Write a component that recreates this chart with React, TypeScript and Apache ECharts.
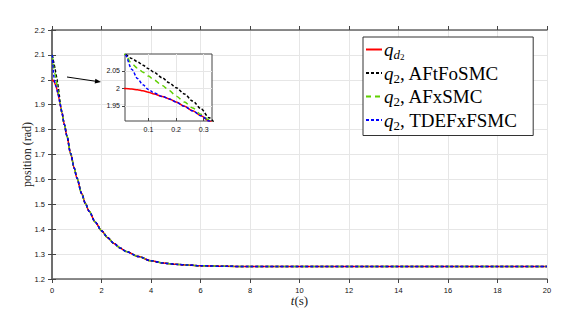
import React, { useEffect, useRef } from 'react';
import * as echarts from 'echarts';

// time samples (s)
const tEarly = [0, 0.015, 0.04, 0.06, 0.08, 0.1, 0.12, 0.15, 0.175, 0.2, 0.23, 0.26, 0.29, 0.32, 0.35, 0.4];
const tTail = [0.5, 0.6, 0.75, 0.9, 1.0, 1.2, 1.35, 1.5, 1.75, 2.0, 2.25, 2.5, 2.75, 3.0, 3.5, 4.0, 4.5, 5, 5.5, 6, 7, 8, 10, 12, 14, 16, 18, 20];

// early transients (rad)
const qdEarly = [2.0, 2.0, 1.998, 1.996, 1.993, 1.989, 1.984, 1.977, 1.97, 1.961, 1.949, 1.936, 1.922, 1.907, 1.892, 1.868];
const aftfoEarly = [2.1, 2.097, 2.085, 2.076, 2.066, 2.056, 2.046, 2.03, 2.016, 2.002, 1.984, 1.964, 1.942, 1.916, 1.894, 1.868];
const afxEarly = [2.1, 2.097, 2.07, 2.058, 2.046, 2.035, 2.024, 2.008, 1.994, 1.978, 1.961, 1.944, 1.926, 1.91, 1.893, 1.868];
const tdefxEarly = [2.1, 2.097, 2.054, 2.028, 2.01, 1.997, 1.987, 1.977, 1.97, 1.961, 1.949, 1.936, 1.922, 1.907, 1.892, 1.868];

// common tail (all trajectories coincide)
const qTail = [1.82, 1.775, 1.705, 1.645, 1.607, 1.543, 1.503, 1.472, 1.428, 1.394, 1.366, 1.343, 1.325, 1.31, 1.29, 1.273, 1.264, 1.259, 1.256, 1.253, 1.251, 1.25, 1.25, 1.25, 1.25, 1.25, 1.25, 1.25];

const seriesNames = ['qd2', 'AFtFoSMC', 'AFxSMC', 'TDEFxFSMC'];
const seriesColors = ['#ff0000', '#000000', '#5fd000', '#0000ff'];
const legendText: Record<string, string> = {
  qd2: '{iq|q}{sd|d}{ss|2}',
  AFtFoSMC: '{iq|q}{s2|2}{r|, AFtFoSMC}',
  AFxSMC: '{iq|q}{s2|2}{r|, AFxSMC}',
  TDEFxFSMC: '{iq|q}{s2|2}{r|, TDEFxFSMC}',
};

const insetXTicks = [0.1, 0.2, 0.3];
const insetYTicks = [1.95, 2, 2.05];

const build = (early: number[]) => [
  ...tEarly.map((t, i) => [t, early[i]]),
  ...tTail.map((t, i) => [t, qTail[i]]),
];

const lineTypes: any[] = ['solid', [3, 2], [5, 4], [3, 2]];

export default function App() {
  const ref = useRef<HTMLDivElement>(null);
  useEffect(() => {
    if (!ref.current) return;
    const chart = echarts.init(ref.current, undefined, { renderer: 'svg' });
    const earlies = [qdEarly, aftfoEarly, afxEarly, tdefxEarly];
    const tickFont = { fontFamily: 'Liberation Sans', fontSize: 7.5, color: '#111' };
    const axisLine = { show: true, lineStyle: { color: '#666', width: 1.5 } };
    const mk = (xi: number, yi: number, zBase: number) =>
      seriesNames.map((n, i) => ({
        name: n,
        type: 'line',
        xAxisIndex: xi,
        yAxisIndex: yi,
        data: build(earlies[i]),
        showSymbol: false,
        symbol: 'none',
        smooth: 0.3,
        smoothMonotone: 'x',
        clip: true,
        z: zBase + i,
        lineStyle: { color: seriesColors[i], width: 1.5, type: lineTypes[i] },
        itemStyle: { color: seriesColors[i] },
      }));
    const serif = 'Liberation Serif';
    chart.setOption({
      animation: false,
      backgroundColor: '#fff',
      grid: [
        { left: 52, top: 30, right: 35, bottom: 42, show: false },
        { left: 125, top: 54, width: 87, height: 67, show: true, backgroundColor: '#fff', borderColor: '#444', borderWidth: 1, z: 8 },
      ],
      xAxis: [
        {
          gridIndex: 0, type: 'value', min: 0, max: 20, interval: 2, position: 'bottom',
          axisLine, axisTick: { show: true, inside: false, length: 4, lineStyle: { color: '#444' } },
          axisLabel: { ...tickFont, margin: 7 },
          splitLine: { show: true, lineStyle: { color: '#e6e6e6', width: 1 } },
          name: '{it|t}{rm|(s)}', nameLocation: 'middle', nameGap: 15, nameMoveOverlap: false,
          nameTextStyle: { rich: { it: { fontFamily: serif, fontStyle: 'italic', fontSize: 13, color: '#222' }, rm: { fontFamily: serif, fontSize: 13, color: '#222' } } },
        },
        {
          gridIndex: 0, type: 'value', min: 0, max: 20, interval: 2, position: 'top',
          axisLine, axisTick: { show: true, inside: false, length: 4, lineStyle: { color: '#444' } },
          axisLabel: { show: false }, splitLine: { show: false },
        },
        {
          gridIndex: 1, type: 'value', min: 0.015, max: 0.33, position: 'bottom', z: 9,
          axisLine: { show: false },
          axisTick: { show: true, inside: true, length: 3, customValues: insetXTicks, lineStyle: { color: '#444' } },
          axisLabel: { ...tickFont, fontSize: 7, margin: 5, customValues: insetXTicks },
          splitLine: { show: true, lineStyle: { color: '#e6e6e6' } },
        },
      ],
      yAxis: [
        {
          gridIndex: 0, type: 'value', min: 1.2, max: 2.2, interval: 0.1, position: 'left',
          axisLine, axisTick: { show: true, inside: false, length: 4, lineStyle: { color: '#444' } },
          axisLabel: { ...tickFont, margin: 7 },
          splitLine: { show: true, lineStyle: { color: '#e6e6e6', width: 1 } },
          name: 'position (rad)', nameLocation: 'middle', nameGap: 19, nameMoveOverlap: false,
          nameTextStyle: { fontFamily: serif, fontSize: 12, color: '#222' },
        },
        {
          gridIndex: 0, type: 'value', min: 1.2, max: 2.2, interval: 0.1, position: 'right',
          axisLine, axisTick: { show: true, inside: false, length: 4, lineStyle: { color: '#444' } },
          axisLabel: { show: false }, splitLine: { show: false },
        },
        {
          gridIndex: 1, type: 'value', min: 1.907, max: 2.098, position: 'left', z: 9,
          axisLine: { show: false },
          axisTick: { show: true, inside: false, length: 3, customValues: insetYTicks, lineStyle: { color: '#444' } },
          axisLabel: { ...tickFont, fontSize: 7, margin: 5, customValues: insetYTicks },
          splitLine: { show: true, lineStyle: { color: '#e6e6e6' } },
        },
      ],
      legend: {
        data: seriesNames,
        orient: 'vertical',
        left: 363,
        top: 37,
        backgroundColor: '#fff',
        borderColor: '#333',
        borderWidth: 1,
        padding: [3, 16, 4, 2],
        itemGap: 2.5,
        itemWidth: 16,
        itemHeight: 10,
        itemStyle: { color: 'rgba(0,0,0,0)', borderWidth: 0, opacity: 0 },
        formatter: (name: string) => legendText[name],
        textStyle: {
          padding: [0, 0, 0, -3],
          rich: {
            iq: { fontFamily: serif, fontStyle: 'italic', fontSize: 19, lineHeight: 23, color: '#000' },
            r: { fontFamily: serif, fontSize: 19, lineHeight: 23, color: '#000' },
            s2: { fontFamily: serif, fontSize: 13, lineHeight: 23, verticalAlign: 'bottom', color: '#000' },
            sd: { fontFamily: serif, fontStyle: 'italic', fontSize: 13, lineHeight: 23, verticalAlign: 'bottom', color: '#000' },
            ss: { fontFamily: serif, fontSize: 9, lineHeight: 23, verticalAlign: 'bottom', color: '#000' },
          },
        },
      },
      graphic: [
        { type: 'line', shape: { x1: 67, y1: 77, x2: 96, y2: 81.3 }, style: { stroke: '#000', lineWidth: 1 }, z: 20 },
        { type: 'polygon', shape: { points: [[101, 82], [94.7, 83.6], [95.4, 78.7]] }, style: { fill: '#000' }, z: 20 },
      ],
      series: [...mk(0, 0, 3), ...mk(2, 2, 10)],
    });
    return () => chart.dispose();
  }, []);
  return <div ref={ref} style={{ width: 582, height: 321, position: 'absolute', left: 0, top: 0 }} />;
}
